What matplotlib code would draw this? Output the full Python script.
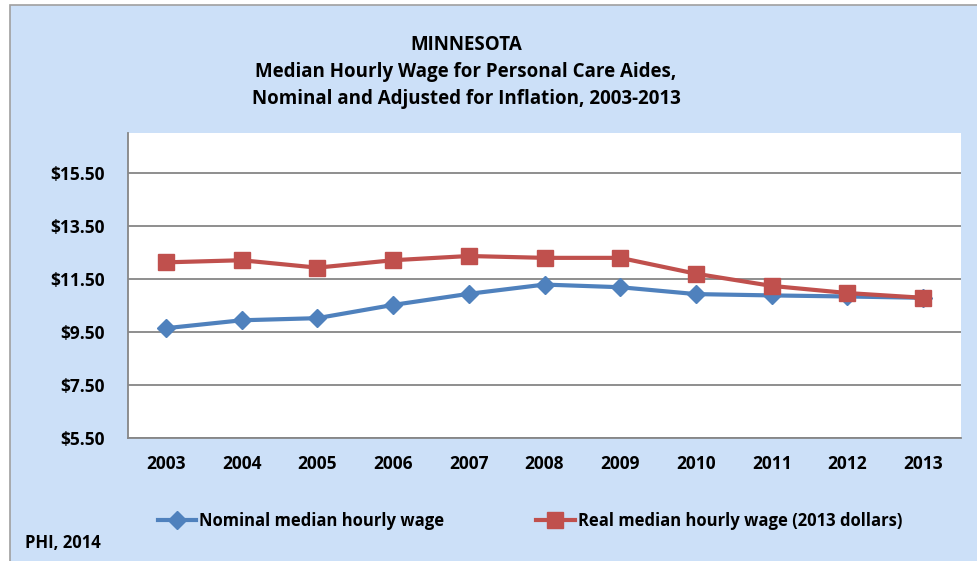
import matplotlib.pyplot as plt
from matplotlib.patches import Rectangle
from matplotlib.lines import Line2D

years = ['2003', '2004', '2005', '2006', '2007', '2008', '2009', '2010', '2011', '2012', '2013']
nominal = [9.65, 9.95, 10.03, 10.53, 10.95, 11.30, 11.20, 10.94, 10.89, 10.85, 10.80]
real = [12.14, 12.22, 11.94, 12.22, 12.38, 12.31, 12.31, 11.71, 11.25, 10.98, 10.80]
yticks = [5.5, 7.5, 9.5, 11.5, 13.5, 15.5]

BG = '#CCE0F8'
BLUE = '#4F81BD'
RED = '#C0504D'
GRID = '#868686'
plt.rcParams['font.family'] = ['Open Sans', 'DejaVu Sans']
plt.rcParams['font.weight'] = 'bold'

W, H = 978, 561
fig = plt.figure(figsize=(W / 100, H / 100), dpi=100)
fig.patch.set_facecolor('white')
fig.patches.append(Rectangle((10 / W, -0.1), 1.2, (H - 5) / H + 0.1, transform=fig.transFigure,
                             facecolor=BG, edgecolor='#A0A0A0', linewidth=1.2, zorder=-1))

ax = fig.add_axes([128 / W, 1 - 438 / H, (961 - 128) / W, (438 - 133) / H])
ax.set_facecolor('white')
x = range(len(years))
ax.plot(x, nominal, color=BLUE, linewidth=3, marker='D', markersize=9.5, zorder=3)
ax.plot(x, real, color=RED, linewidth=3, marker='s', markersize=11, zorder=3)

ax.set_xlim(-0.5, len(years) - 0.5)
ax.set_ylim(5.5, 17.03)
ax.set_yticks(yticks)
ax.set_yticklabels([f'${v:.2f}' for v in yticks])
ax.set_xticks(list(x))
ax.set_xticklabels(years)
ax.grid(axis='y', color=GRID, linewidth=1.3)
ax.set_axisbelow(True)
for s in ['top', 'right']:
    ax.spines[s].set_visible(False)
for s in ['left', 'bottom']:
    ax.spines[s].set_color(GRID)
    ax.spines[s].set_linewidth(1.3)
ax.tick_params(axis='both', length=0, labelsize=12.5, colors='black')
ax.tick_params(axis='y', pad=17)
ax.tick_params(axis='x', pad=12)
for lbl in ax.get_xticklabels() + ax.get_yticklabels():
    lbl.set_fontweight('bold')

title_lines = ['MINNESOTA', 'Median Hourly Wage for Personal Care Aides,',
               'Nominal and Adjusted for Inflation, 2003-2013']
for i, t in enumerate(title_lines):
    fig.text(466 / W, 1 - (45 + 27 * i) / H, t, ha='center', va='center',
             fontsize=13.5, fontweight='bold')

handles = [Line2D([], [], color=BLUE, linewidth=3, marker='D', markersize=9.5),
           Line2D([], [], color=RED, linewidth=3, marker='s', markersize=11)]
labels = ['Nominal median hourly wage', 'Real median hourly wage (2013 dollars)']
fig.legend(handles, labels, loc='center', bbox_to_anchor=(530 / W, 1 - 521 / H), ncol=2,
           frameon=False, prop={'weight': 'bold', 'size': 12}, columnspacing=5.5,
           handlelength=2.3, handletextpad=0.2)

fig.text(25 / W, 1 - 543 / H, 'PHI, 2014', ha='left', va='center', fontsize=12, fontweight='bold')

fig.savefig('out.png', dpi=100, facecolor=fig.get_facecolor())
